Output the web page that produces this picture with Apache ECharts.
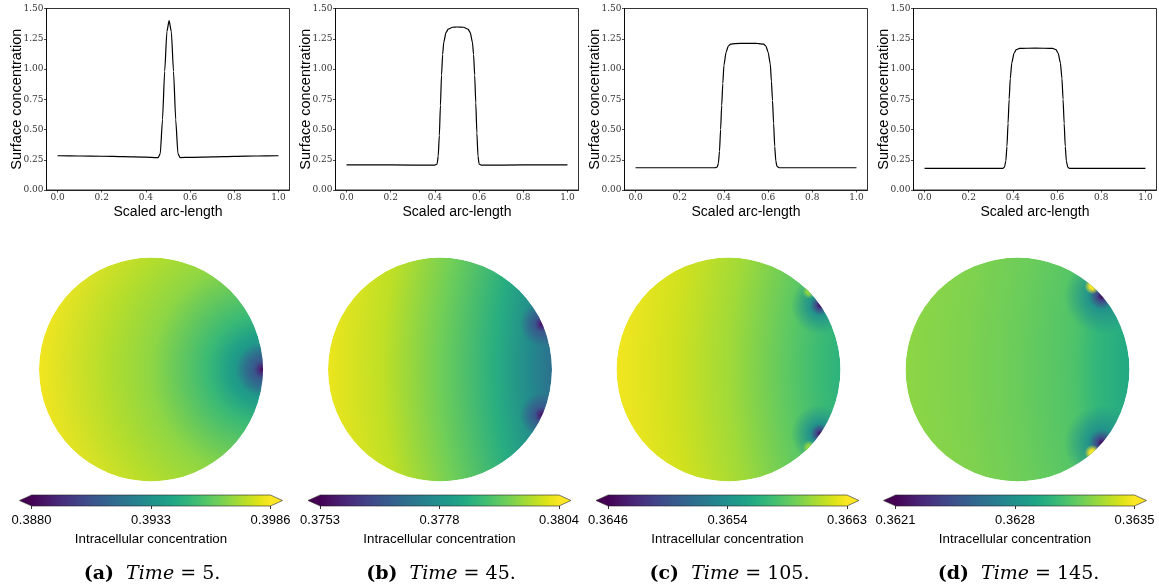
<!DOCTYPE html>
<html>
<head>
<meta charset="utf-8">
<script src="https://cdn.jsdelivr.net/npm/echarts@6/dist/echarts.min.js"></script>
<style>
html,body{margin:0;padding:0;background:#fff;}
#main{width:1159px;height:585px;}
</style>
</head>
<body>
<div id="main"></div>
<script>
// ---------------- DATA ----------------
const panelLetters = ['a', 'b', 'c', 'd'];
const panelTimes = [5, 45, 105, 145];

// Surface concentration vs scaled arc-length (top row)
const arcA = [0, 0.1, 0.2, 0.3, 0.4, 0.455, 0.465, 0.475, 0.485, 0.495, 0.505, 0.515, 0.525, 0.535, 0.545, 0.555, 0.6, 0.7, 0.8, 0.9, 1.0];
const surfA = [0.283, 0.281, 0.279, 0.276, 0.272, 0.267, 0.30, 0.58, 0.98, 1.31, 1.40, 1.31, 0.98, 0.58, 0.30, 0.268, 0.270, 0.274, 0.278, 0.281, 0.283];

const arcB = [0, 0.2, 0.4, 0.41, 0.415, 0.42, 0.425, 0.43, 0.435, 0.44, 0.45, 0.46, 0.48, 0.5, 0.53, 0.55, 0.56, 0.57, 0.575, 0.58, 0.585, 0.59, 0.595, 0.6, 0.61, 0.8, 1.0];
const surfB = [0.208, 0.207, 0.205, 0.215, 0.28, 0.45, 0.70, 0.95, 1.12, 1.22, 1.30, 1.33, 1.345, 1.347, 1.345, 1.33, 1.30, 1.22, 1.12, 0.95, 0.72, 0.47, 0.28, 0.215, 0.205, 0.207, 0.208];

const arcC = [0, 0.2, 0.36, 0.37, 0.375, 0.38, 0.385, 0.39, 0.395, 0.40, 0.41, 0.42, 0.43, 0.45, 0.5, 0.55, 0.58, 0.59, 0.60, 0.61, 0.615, 0.62, 0.625, 0.63, 0.635, 0.64, 0.65, 0.8, 1.0];
const surfC = [0.184, 0.184, 0.184, 0.19, 0.22, 0.32, 0.50, 0.70, 0.88, 1.03, 1.14, 1.19, 1.205, 1.21, 1.212, 1.211, 1.205, 1.19, 1.14, 1.04, 0.90, 0.74, 0.55, 0.36, 0.24, 0.195, 0.184, 0.184, 0.184];

const arcD = [0, 0.2, 0.355, 0.362, 0.368, 0.373, 0.378, 0.383, 0.388, 0.395, 0.405, 0.415, 0.43, 0.5, 0.58, 0.595, 0.605, 0.615, 0.622, 0.627, 0.632, 0.637, 0.642, 0.648, 0.655, 0.8, 1.0];
const surfD = [0.179, 0.179, 0.179, 0.19, 0.24, 0.36, 0.55, 0.75, 0.92, 1.05, 1.13, 1.16, 1.17, 1.173, 1.17, 1.16, 1.13, 1.05, 0.92, 0.75, 0.55, 0.36, 0.24, 0.19, 0.179, 0.179, 0.179];

const arcTicks = [0, 0.2, 0.4, 0.6, 0.8, 1.0];

// Colour-bar ranges and tick labels (bottom row)
const cbarMin = [0.3880, 0.3753, 0.3646, 0.3621];
const cbarMax = [0.3986, 0.3804, 0.3663, 0.3635];
const cbarTickLabels = [
  ['0.3880', '0.3933', '0.3986'],
  ['0.3753', '0.3778', '0.3804'],
  ['0.3646', '0.3654', '0.3663'],
  ['0.3621', '0.3628', '0.3635']
];

// Intracellular concentration field on the unit disk:
// background = concentration vs distance from a reference point,
// spots = [angle on boundary (deg), radius (disk radii), core value, halo value]
const fieldCenterA = [1, 0];
const fieldA = [[0.0, 0.3920], [0.15, 0.3930], [0.3, 0.3940], [0.5, 0.3952], [1.0, 0.3968], [1.4, 0.3974], [2.0, 0.3984]];
const spotsA = [[0, 0.24, 0.3880, 0.3909]];

const fieldCenterB = [4, 0];
const fieldB = [[3.0, 0.37720], [3.2, 0.37770], [3.5, 0.37846], [4.0, 0.37928], [4.5, 0.37989], [5.0, 0.38025]];
const spotsB = [[24, 0.2, 0.3753, 0.37668], [-24, 0.2, 0.3753, 0.37668]];

const fieldCenterC = [4, 0];
const fieldC = [[3.0, 0.36569], [3.2, 0.36576], [3.5, 0.36588], [4.0, 0.36606], [4.5, 0.36618], [5.0, 0.36627]];
const spotsC = [[35, 0.26, 0.3646, 0.36545], [-35, 0.26, 0.3646, 0.36545], [44, 0.06, 0.36602, 0.36602], [-44, 0.06, 0.36602, 0.36602]];

const fieldCenterD = [4, 0];
const fieldD = [[3.0, 0.36294], [3.3, 0.36302], [3.5, 0.36311], [4.0, 0.36318], [4.5, 0.36323], [5.0, 0.36326]];
const spotsD = [[41, 0.34, 0.3621, 0.3628], [-41, 0.34, 0.3621, 0.3628], [48, 0.07, 0.3635, 0.3635], [-48, 0.07, 0.3635, 0.3635]];

// ---------------- STYLE / LAYOUT ----------------
const viridis = [[68,1,84],[71,19,101],[72,36,117],[70,51,127],[65,68,135],[59,82,139],[53,95,141],[47,108,142],[42,120,142],[37,132,142],[33,145,140],[30,156,137],[34,168,132],[47,180,124],[68,191,112],[94,201,98],[122,209,81],[155,217,60],[189,223,38],[223,227,24],[253,231,37]];
function cmapRGB(t) {
  t = Math.max(0, Math.min(1, t));
  const f = t * (viridis.length - 1);
  const i = Math.min(Math.floor(f), viridis.length - 2);
  const w = f - i;
  const a = viridis[i], b = viridis[i + 1];
  return [0, 1, 2].map(k => Math.round(a[k] + (b[k] - a[k]) * w));
}
function cmap(t, alpha) {
  const c = cmapRGB(t);
  return 'rgba(' + c[0] + ',' + c[1] + ',' + c[2] + ',' + (alpha === undefined ? 1 : alpha) + ')';
}

const arcX = [arcA, arcB, arcC, arcD];
const surfY = [surfA, surfB, surfC, surfD];
const fieldCenters = [fieldCenterA, fieldCenterB, fieldCenterC, fieldCenterD];
const fields = [fieldA, fieldB, fieldC, fieldD];
const spots = [spotsA, spotsB, spotsC, spotsD];

const topLeft = [46.5, 335.5, 624.5, 913.5];
const topWidth = 243;
const diskCx = [151, 440, 728.5, 1017.5];
const diskCy = 369.5;
const diskR = 112;
const cbLeft = [31.5, 320, 608, 895.5];
const cbWidth = 239;

const serifTick = { fontFamily: 'DejaVu Serif', fontSize: 9, color: '#333' };
const sansLabel = 'Liberation Sans';

const grids = [], xAxes = [], yAxes = [], series = [], titles = [];

for (let i = 0; i < 4; i++) {
  // ---- top line plot ----
  grids.push({ left: topLeft[i], top: 8.5, width: topWidth, height: 181.5, show: true, borderColor: '#000', borderWidth: 0.8 });
  xAxes.push({
    gridIndex: grids.length - 1, type: 'value', min: -0.05, max: 1.05,
    axisLine: { onZero: false, lineStyle: { color: '#000', width: 0.8 } },
    axisTick: { customValues: arcTicks, length: 2.5, lineStyle: { color: '#000', width: 0.7 } },
    axisLabel: Object.assign({ customValues: arcTicks, margin: 3, formatter: v => v.toFixed(1) }, serifTick),
    splitLine: { show: false },
    name: 'Scaled arc-length', nameLocation: 'middle', nameGap: 15, nameMoveOverlap: false,
    nameTextStyle: { fontFamily: sansLabel, fontSize: 14, color: '#000' }
  });
  yAxes.push({
    gridIndex: grids.length - 1, type: 'value', min: 0, max: 1.5, interval: 0.25,
    axisLine: { show: true, onZero: false, lineStyle: { color: '#000', width: 0.8 } },
    axisTick: { show: true, length: 2.5, lineStyle: { color: '#000', width: 0.7 } },
    axisLabel: Object.assign({ margin: 3, formatter: v => v.toFixed(2) }, serifTick),
    splitLine: { show: false },
    name: 'Surface concentration', nameLocation: 'middle', nameGap: 22, nameMoveOverlap: false,
    nameTextStyle: { fontFamily: sansLabel, fontSize: 14.5, color: '#000' }
  });
  series.push({
    type: 'line', xAxisIndex: xAxes.length - 1, yAxisIndex: yAxes.length - 1,
    data: arcX[i].map((x, k) => [x, surfY[i][k]]),
    showSymbol: false, symbol: 'none', smooth: 0.2, smoothMonotone: 'x',
    lineStyle: { color: '#000', width: 1.2 }, silent: true, animation: false
  });
}

for (let i = 0; i < 4; i++) {
  // ---- disk field ----
  grids.push({ left: diskCx[i] - diskR, top: diskCy - diskR, width: 2 * diskR, height: 2 * diskR });
  xAxes.push({ gridIndex: grids.length - 1, type: 'value', min: -1, max: 1, show: false });
  yAxes.push({ gridIndex: grids.length - 1, type: 'value', min: -1, max: 1, show: false });
  const vmin = cbarMin[i], vmax = cbarMax[i];
  const tOf = v => (v - vmin) / (vmax - vmin);
  const fc = fieldCenters[i], fld = fields[i], sp = spots[i];
  series.push({
    type: 'custom', xAxisIndex: xAxes.length - 1, yAxisIndex: yAxes.length - 1,
    data: [[0, 0]], silent: true, animation: false, clip: false,
    renderItem: function (params, api) {
      const c = api.coord([0, 0]);
      const R = api.coord([1, 0])[0] - c[0];
      const bc = api.coord(fc);
      const maxD = fld[fld.length - 1][0];
      const stops = fld.map(s => ({ offset: s[0] / maxD, color: cmap(tOf(s[1])) }));
      const children = [{
        type: 'circle', shape: { cx: c[0], cy: c[1], r: R },
        style: { fill: new echarts.graphic.RadialGradient(bc[0], bc[1], maxD * R, stops, true) }
      }];
      sp.forEach(s => {
        const a = s[0] * Math.PI / 180;
        const p = api.coord([Math.cos(a), Math.sin(a)]);
        const r = s[1] * R;
        children.push({
          type: 'circle', shape: { cx: p[0], cy: p[1], r: r },
          style: { fill: new echarts.graphic.RadialGradient(p[0], p[1], r, [
            { offset: 0, color: cmap(tOf(s[2]), 1) },
            { offset: 0.12, color: cmap(tOf(s[2]) * 0.6 + tOf(s[3]) * 0.4, 1) },
            { offset: 0.35, color: cmap(tOf(s[3]), 0.95) },
            { offset: 1, color: cmap(tOf(s[3]), 0) }
          ], true) }
        });
      });
      return {
        type: 'group',
        clipPath: { type: 'circle', shape: { cx: c[0], cy: c[1], r: R } },
        children: children
      };
    }
  });
}

for (let i = 0; i < 4; i++) {
  // ---- colour bar ----
  const vmin = cbarMin[i], vmax = cbarMax[i];
  const ticks = [vmin, (vmin + vmax) / 2, vmax];
  const labels = cbarTickLabels[i];
  grids.push({ left: cbLeft[i], top: 495, width: cbWidth, height: 11 });
  xAxes.push({
    gridIndex: grids.length - 1, type: 'value', min: vmin, max: vmax,
    axisLine: { show: false },
    axisTick: { customValues: ticks, length: 3, lineStyle: { color: '#000', width: 0.8 } },
    axisLabel: {
      customValues: ticks, margin: 8, fontFamily: sansLabel, fontSize: 13, color: '#000',
      formatter: v => { let k = 0, best = 1e9; ticks.forEach((t, j) => { const d = Math.abs(t - v); if (d < best) { best = d; k = j; } }); return labels[k]; }
    },
    splitLine: { show: false },
    name: 'Intracellular concentration', nameLocation: 'middle', nameGap: 27, nameMoveOverlap: false,
    nameTextStyle: { fontFamily: sansLabel, fontSize: 13.3, color: '#000' }
  });
  yAxes.push({ gridIndex: grids.length - 1, type: 'value', min: 0, max: 1, show: false });
  const ext = 0.05 * (vmax - vmin);
  series.push({
    type: 'custom', xAxisIndex: xAxes.length - 1, yAxisIndex: yAxes.length - 1,
    data: [[vmin, 0]], silent: true, animation: false, clip: false,
    renderItem: function (params, api) {
      const p0 = api.coord([vmin, 0]);
      const p1 = api.coord([vmax, 1]);
      const pl = api.coord([vmin - ext, 0.5]);
      const pr = api.coord([vmax + ext, 0.5]);
      const gstops = viridis.map((c, k) => ({ offset: k / (viridis.length - 1), color: 'rgb(' + c.join(',') + ')' }));
      return {
        type: 'group', children: [
          { type: 'rect', shape: { x: p0[0], y: p1[1], width: p1[0] - p0[0], height: p0[1] - p1[1] },
            style: { fill: new echarts.graphic.LinearGradient(p0[0], 0, p1[0], 0, gstops, true) } },
          { type: 'polygon', shape: { points: [[p0[0] + 0.5, p1[1]], [pl[0], pl[1]], [p0[0] + 0.5, p0[1]]] }, style: { fill: cmap(0) } },
          { type: 'polygon', shape: { points: [[p1[0] - 0.5, p1[1]], [pr[0], pr[1]], [p1[0] - 0.5, p0[1]]] }, style: { fill: cmap(1) } },
          { type: 'polygon', shape: { points: [[p0[0], p1[1]], [p1[0], p1[1]], [pr[0], pr[1]], [p1[0], p0[1]], [p0[0], p0[1]], [pl[0], pl[1]]] },
            style: { fill: 'none', stroke: '#222', lineWidth: 0.6 } }
        ]
      };
    }
  });
  // ---- caption ----
  const capStyle = { fontFamily: 'DejaVu Serif', fontSize: 19, fontWeight: 'normal', color: '#000' };
  titles.push({
    left: diskCx[i] - 4, top: 560, textAlign: 'center',
    text: '{b|(' + panelLetters[i] + ')}  {it|Time} {r|= ' + panelTimes[i] + '.}',
    textStyle: Object.assign({
      rich: {
        b: Object.assign({}, capStyle, { fontWeight: 'bold' }),
        it: Object.assign({}, capStyle, { fontStyle: 'italic' }),
        r: Object.assign({}, capStyle)
      }
    }, capStyle)
  });
}

const chart = echarts.init(document.getElementById('main'), null, { renderer: 'canvas' });
chart.setOption({
  backgroundColor: '#fff',
  animation: false,
  title: titles,
  grid: grids,
  xAxis: xAxes,
  yAxis: yAxes,
  series: series
});
</script>
</body>
</html>
